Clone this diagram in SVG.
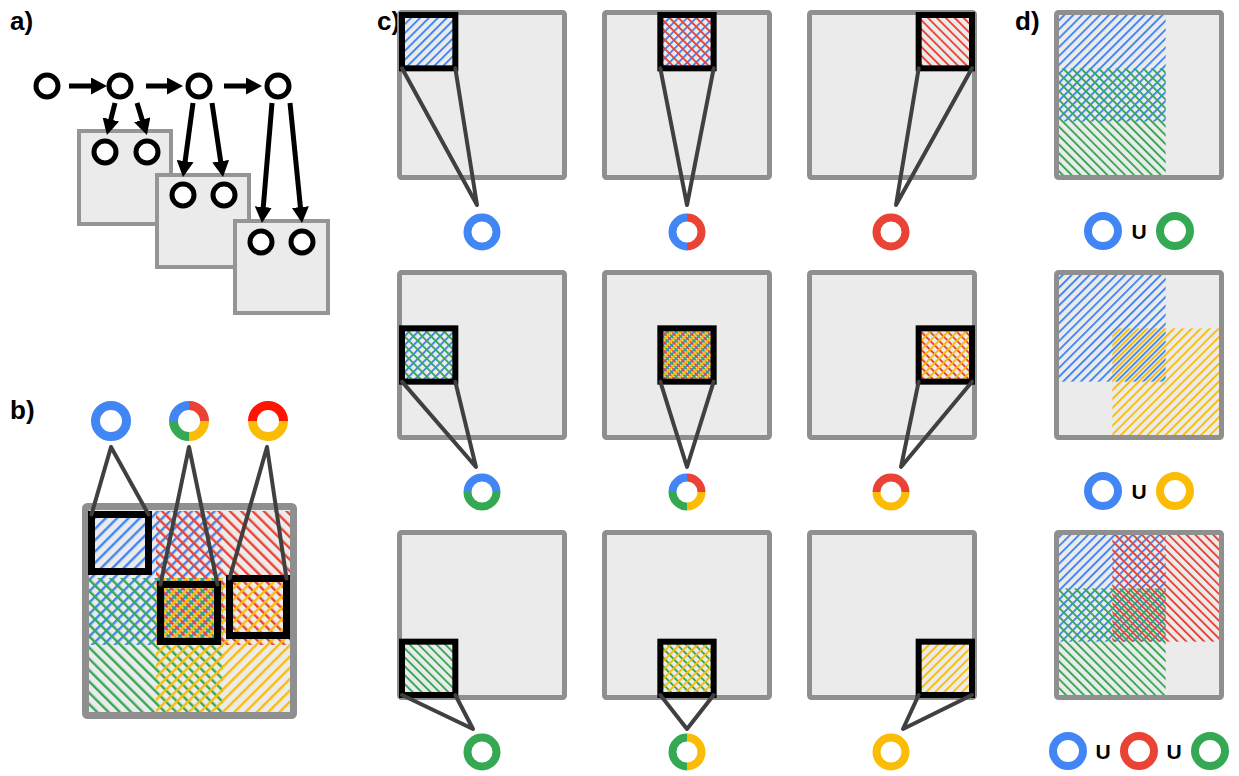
<svg xmlns="http://www.w3.org/2000/svg" width="1239" height="776" viewBox="0 0 1239 776">
<defs>
<style>
.lbl{font-family:"Liberation Sans",Arial,sans-serif;font-weight:bold;font-size:26px;fill:#000}
.uni{font-family:"Liberation Sans",Arial,sans-serif;font-weight:bold;font-size:21px;fill:#000;text-anchor:middle}
.big{fill:#ebebeb;stroke:#8f8f8f;stroke-width:5}
.box{fill:#ebebeb;stroke:#959595;stroke-width:4}
.sel{fill:none;stroke:#000;stroke-width:6}
.ptr{fill:none;stroke:#404040;stroke-width:4;stroke-linejoin:round;stroke-linecap:round}
.node{fill:#fff;stroke:#000;stroke-width:5}
.arr{stroke:#000;stroke-width:5;fill:none;marker-end:url(#ah)}
.ring{fill:none;stroke-width:8}
.bring{fill:none;stroke-width:9}
</style>
<marker id="ah" markerUnits="userSpaceOnUse" markerWidth="16" markerHeight="17" viewBox="0 0 16 17" refX="1" refY="8.5" orient="auto"><path d="M0,0 L16,8.5 L0,17 z" fill="#000"/></marker>
<pattern id="cB" width="6.3" height="8" patternUnits="userSpaceOnUse" patternTransform="rotate(45)"><rect width="1.9" height="8" fill="#4285F4"/></pattern>
<pattern id="cR" width="6.3" height="8" patternUnits="userSpaceOnUse" patternTransform="rotate(-45)"><rect width="1.9" height="8" fill="#EA4335"/></pattern>
<pattern id="cG" width="6.3" height="8" patternUnits="userSpaceOnUse" patternTransform="rotate(-45) translate(3.1,0)"><rect width="1.9" height="8" fill="#34A853"/></pattern>
<pattern id="cY" width="6.3" height="8" patternUnits="userSpaceOnUse" patternTransform="rotate(45) translate(3.1,0)"><rect width="1.9" height="8" fill="#FBBC05"/></pattern>
<pattern id="bB" width="8" height="8" patternUnits="userSpaceOnUse" patternTransform="rotate(45)"><rect width="2.4" height="8" fill="#4285F4"/></pattern>
<pattern id="bR" width="8" height="8" patternUnits="userSpaceOnUse" patternTransform="rotate(-45)"><rect width="2.4" height="8" fill="#EA4335"/></pattern>
<pattern id="bG" width="8" height="8" patternUnits="userSpaceOnUse" patternTransform="rotate(-45) translate(4,0)"><rect width="2.4" height="8" fill="#34A853"/></pattern>
<pattern id="bY" width="8" height="8" patternUnits="userSpaceOnUse" patternTransform="rotate(45) translate(4,0)"><rect width="2.4" height="8" fill="#FBBC05"/></pattern>
</defs>
<rect width="1239" height="776" fill="#fff"/>

<text class="lbl" x="10" y="30">a)</text>
<text class="lbl" x="10" y="419">b)</text>
<text class="lbl" x="377" y="30">c)</text>
<text class="lbl" x="1015" y="30">d)</text>

<!-- Panel a -->
<g id="a-box1"><rect class="box" x="79" y="131" width="92" height="93"/><circle class="node" cx="105" cy="152" r="11"/><circle class="node" cx="147" cy="152" r="11"/></g>
<g id="a-box2"><rect class="box" x="157" y="175" width="92" height="92"/><circle class="node" cx="183" cy="195" r="11"/><circle class="node" cx="224" cy="195" r="11"/></g>
<g id="a-box3"><rect class="box" x="235" y="221" width="93" height="92"/><circle class="node" cx="261" cy="242" r="11"/><circle class="node" cx="302" cy="242" r="11"/></g>
<g id="a-n1"><circle class="node" cx="47" cy="86" r="11"/></g>
<g id="a-n2"><circle class="node" cx="120" cy="86" r="11"/></g>
<g id="a-n3"><circle class="node" cx="199" cy="86" r="11"/></g>
<g id="a-n4"><circle class="node" cx="278" cy="86" r="11"/></g>
<g id="a-connectors">
<line class="arr" x1="69" y1="86" x2="92" y2="86"/>
<line class="arr" x1="146" y1="86" x2="168" y2="86"/>
<line class="arr" x1="224" y1="86" x2="247" y2="86"/>
<line class="arr" x1="115" y1="103" x2="110.6" y2="120.4"/>
<line class="arr" x1="137" y1="103" x2="142.5" y2="120.7"/>
<line class="arr" x1="193" y1="103" x2="185" y2="162.1"/>
<line class="arr" x1="212" y1="103" x2="220.8" y2="162.2"/>
<line class="arr" x1="272" y1="103" x2="263.2" y2="208"/>
<line class="arr" x1="290" y1="103" x2="300.5" y2="208.1"/>
</g>

<!-- Panel b -->
<g id="b-grid">
<rect class="big" x="85.5" y="506.5" width="208" height="209" rx="2" style="stroke-width:7"/>
<rect x="89" y="511" width="134" height="134" fill="url(#bB)"/>
<rect x="156" y="511" width="134" height="134" fill="url(#bR)"/>
<rect x="89" y="578" width="134" height="134" fill="url(#bG)"/>
<rect x="156" y="578" width="134" height="134" fill="url(#bY)"/>
<rect class="sel" x="91.5" y="514.5" width="57" height="57" style="stroke-width:7"/>
<rect class="sel" x="160.5" y="584.5" width="57" height="57" style="stroke-width:7"/>
<rect class="sel" x="229.5" y="578.5" width="57" height="57" style="stroke-width:7"/>
</g>
<g id="b-ring1"><circle class="bring" cx="111" cy="421" r="15.5" stroke="#4285F4"/></g>
<g id="b-ring2" transform="translate(189,421)">
<path class="bring" stroke="#4285F4" d="M-15.5,0 A15.5,15.5 0 0 1 0,-15.5"/>
<path class="bring" stroke="#EA4335" d="M0,-15.5 A15.5,15.5 0 0 1 15.5,0"/>
<path class="bring" stroke="#FBBC05" d="M15.5,0 A15.5,15.5 0 0 1 0,15.5"/>
<path class="bring" stroke="#34A853" d="M0,15.5 A15.5,15.5 0 0 1 -15.5,0"/>
</g>
<g id="b-ring3" transform="translate(268,421)">
<path class="bring" stroke="#FF1400" d="M-15.5,0 A15.5,15.5 0 0 1 15.5,0"/>
<path class="bring" stroke="#FBBC05" d="M-15.5,0 A15.5,15.5 0 0 0 15.5,0"/>
</g>
<g id="b-connectors">
<polyline class="ptr" points="91.5,514.5 111,447 148.5,514.5"/>
<polyline class="ptr" points="160.5,584.5 189,447 217.5,584.5"/>
<polyline class="ptr" points="229.5,578.5 267,447 286.5,578.5"/>
</g>

<!-- Panel c -->
<g id="c11">
<rect class="big" x="399.5" y="12.5" width="165" height="165" rx="2"/>
<rect x="402" y="15" width="53.33" height="53.33" fill="url(#cB)"/>
<rect class="sel" x="402" y="15" width="53.33" height="53.33"/>
<circle class="ring" cx="482" cy="232" r="14.5" stroke="#4285F4"/>
</g>
<g id="c12">
<rect class="big" x="604.5" y="12.5" width="165" height="165" rx="2"/>
<rect x="660.33" y="15" width="53.33" height="53.33" fill="url(#cB)"/>
<rect x="660.33" y="15" width="53.33" height="53.33" fill="url(#cR)"/>
<rect class="sel" x="660.33" y="15" width="53.33" height="53.33"/>
<g transform="translate(687,232)">
<path class="ring" stroke="#4285F4" d="M0,-14.5 A14.5,14.5 0 0 0 0,14.5"/>
<path class="ring" stroke="#EA4335" d="M0,-14.5 A14.5,14.5 0 0 1 0,14.5"/>
</g>
</g>
<g id="c13">
<rect class="big" x="809.5" y="12.5" width="165" height="165" rx="2"/>
<rect x="918.67" y="15" width="53.33" height="53.33" fill="url(#cR)"/>
<rect class="sel" x="918.67" y="15" width="53.33" height="53.33"/>
<circle class="ring" cx="891" cy="232" r="14.5" stroke="#EA4335"/>
</g>
<g id="c21">
<rect class="big" x="399.5" y="272.5" width="165" height="165" rx="2"/>
<rect x="402" y="328.33" width="53.33" height="53.33" fill="url(#cB)"/>
<rect x="402" y="328.33" width="53.33" height="53.33" fill="url(#cG)"/>
<rect class="sel" x="402" y="328.33" width="53.33" height="53.33"/>
<g transform="translate(482,492)">
<path class="ring" stroke="#4285F4" d="M-14.5,0 A14.5,14.5 0 0 1 14.5,0"/>
<path class="ring" stroke="#34A853" d="M-14.5,0 A14.5,14.5 0 0 0 14.5,0"/>
</g>
</g>
<g id="c22">
<rect class="big" x="604.5" y="272.5" width="165" height="165" rx="2"/>
<rect x="660.33" y="328.33" width="53.33" height="53.33" fill="url(#cB)"/>
<rect x="660.33" y="328.33" width="53.33" height="53.33" fill="url(#cR)"/>
<rect x="660.33" y="328.33" width="53.33" height="53.33" fill="url(#cG)"/>
<rect x="660.33" y="328.33" width="53.33" height="53.33" fill="url(#cY)"/>
<rect class="sel" x="660.33" y="328.33" width="53.33" height="53.33"/>
<g transform="translate(687,492)">
<path class="ring" stroke="#4285F4" d="M-14.5,0 A14.5,14.5 0 0 1 0,-14.5"/>
<path class="ring" stroke="#EA4335" d="M0,-14.5 A14.5,14.5 0 0 1 14.5,0"/>
<path class="ring" stroke="#FBBC05" d="M14.5,0 A14.5,14.5 0 0 1 0,14.5"/>
<path class="ring" stroke="#34A853" d="M0,14.5 A14.5,14.5 0 0 1 -14.5,0"/>
</g>
</g>
<g id="c23">
<rect class="big" x="809.5" y="272.5" width="165" height="165" rx="2"/>
<rect x="918.67" y="328.33" width="53.33" height="53.33" fill="url(#cR)"/>
<rect x="918.67" y="328.33" width="53.33" height="53.33" fill="url(#cY)"/>
<rect class="sel" x="918.67" y="328.33" width="53.33" height="53.33"/>
<g transform="translate(891,492)">
<path class="ring" stroke="#EA4335" d="M-14.5,0 A14.5,14.5 0 0 1 14.5,0"/>
<path class="ring" stroke="#FBBC05" d="M-14.5,0 A14.5,14.5 0 0 0 14.5,0"/>
</g>
</g>
<g id="c31">
<rect class="big" x="399.5" y="532.5" width="165" height="165" rx="2"/>
<rect x="402" y="641.67" width="53.33" height="53.33" fill="url(#cG)"/>
<rect class="sel" x="402" y="641.67" width="53.33" height="53.33"/>
<circle class="ring" cx="482" cy="752" r="14.5" stroke="#34A853"/>
</g>
<g id="c32">
<rect class="big" x="604.5" y="532.5" width="165" height="165" rx="2"/>
<rect x="660.33" y="641.67" width="53.33" height="53.33" fill="url(#cG)"/>
<rect x="660.33" y="641.67" width="53.33" height="53.33" fill="url(#cY)"/>
<rect class="sel" x="660.33" y="641.67" width="53.33" height="53.33"/>
<g transform="translate(687,752)">
<path class="ring" stroke="#34A853" d="M0,-14.5 A14.5,14.5 0 0 0 0,14.5"/>
<path class="ring" stroke="#FBBC05" d="M0,-14.5 A14.5,14.5 0 0 1 0,14.5"/>
</g>
</g>
<g id="c33">
<rect class="big" x="809.5" y="532.5" width="165" height="165" rx="2"/>
<rect x="918.67" y="641.67" width="53.33" height="53.33" fill="url(#cY)"/>
<rect class="sel" x="918.67" y="641.67" width="53.33" height="53.33"/>
<circle class="ring" cx="891" cy="752" r="14.5" stroke="#FBBC05"/>
</g>
<g id="c-connectors">
<polyline class="ptr" points="402,68.33 477,205 455.33,68.33"/>
<polyline class="ptr" points="660.33,68.33 687,205 713.67,68.33"/>
<polyline class="ptr" points="918.67,68.33 896,205 972,68.33"/>
<polyline class="ptr" points="402,381.67 476,467 455.33,381.67"/>
<polyline class="ptr" points="660.33,381.67 687,467 713.67,381.67"/>
<polyline class="ptr" points="918.67,381.67 901,467 972,381.67"/>
<polyline class="ptr" points="402,695 473,729 455.33,695"/>
<polyline class="ptr" points="660.33,695 687,729 713.67,695"/>
<polyline class="ptr" points="918.67,695 903,729 972,695"/>
</g>

<!-- Panel d -->
<g id="d1">
<rect class="big" x="1056.5" y="12.5" width="165" height="165" rx="2"/>
<rect x="1059" y="15" width="106.67" height="106.67" fill="url(#cB)"/>
<rect x="1059" y="68.33" width="106.67" height="106.67" fill="url(#cG)"/>
<circle class="ring" cx="1103" cy="231" r="15" stroke="#4285F4"/>
<text class="uni" x="1139" y="239">U</text>
<circle class="ring" cx="1175" cy="231" r="15" stroke="#34A853"/>
</g>
<g id="d2">
<rect class="big" x="1056.5" y="272.5" width="165" height="165" rx="2"/>
<rect x="1059" y="275" width="106.67" height="106.67" fill="url(#cB)"/>
<rect x="1112.33" y="328.33" width="106.67" height="106.67" fill="url(#cY)"/>
<circle class="ring" cx="1103" cy="491" r="15" stroke="#4285F4"/>
<text class="uni" x="1139" y="499">U</text>
<circle class="ring" cx="1175" cy="491" r="15" stroke="#FBBC05"/>
</g>
<g id="d3">
<rect class="big" x="1056.5" y="532.5" width="165" height="165" rx="2"/>
<rect x="1059" y="535" width="106.67" height="106.67" fill="url(#cB)"/>
<rect x="1112.33" y="535" width="106.67" height="106.67" fill="url(#cR)"/>
<rect x="1059" y="588.33" width="106.67" height="106.67" fill="url(#cG)"/>
<circle class="ring" cx="1068" cy="751" r="15" stroke="#4285F4"/>
<text class="uni" x="1103" y="759">U</text>
<circle class="ring" cx="1139" cy="751" r="15" stroke="#EA4335"/>
<text class="uni" x="1174" y="759">U</text>
<circle class="ring" cx="1210" cy="751" r="15" stroke="#34A853"/>
</g>
</svg>
